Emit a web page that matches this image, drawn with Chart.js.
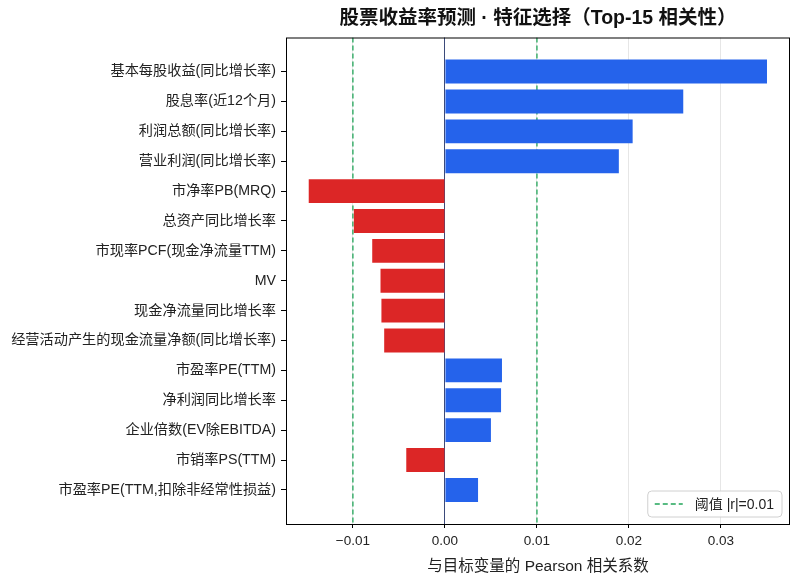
<!DOCTYPE html>
<html>
<head>
<meta charset="utf-8">
<script src="https://cdn.jsdelivr.net/npm/chart.js@4.4.1/dist/chart.umd.min.js"></script>
<style>
  body { margin: 0; background: #fff; }
  #chart { display: block; }
</style>
</head>
<body>
<canvas id="chart" width="800" height="586"></canvas>
<script>
const features = [
    '基本每股收益(同比增长率)',
    '股息率(近12个月)',
    '利润总额(同比增长率)',
    '营业利润(同比增长率)',
    '市净率PB(MRQ)',
    '总资产同比增长率',
    '市现率PCF(现金净流量TTM)',
    'MV',
    '现金净流量同比增长率',
    '经营活动产生的现金流量净额(同比增长率)',
    '市盈率PE(TTM)',
    '净利润同比增长率',
    '企业倍数(EV除EBITDA)',
    '市销率PS(TTM)',
    '市盈率PE(TTM,扣除非经常性损益)'
];
const pearsonR = [0.0350, 0.0259, 0.0204, 0.0189, -0.0148, -0.0099, -0.0079, -0.0070, -0.0069, -0.0066, 0.0062, 0.0061, 0.0050, -0.0042, 0.0036];
const threshold = 0.01;
const xTicks = [-0.01, 0, 0.01, 0.02, 0.03];
const xTickLabels = ['\u22120.01', '0.00', '0.01', '0.02', '0.03'];

const FONT = "'Liberation Sans', 'Noto Sans CJK SC', sans-serif";
const Y_MIN = -1.14, Y_MAX = features.length - 1 + 1.14;

// frame around plot + legend in lower right
const framePlugin = {
    id: 'frame',
    afterDraw(chart) {
        const { ctx, chartArea: a } = chart;
        ctx.save();
        ctx.strokeStyle = '#000';
        ctx.lineWidth = 1;
        ctx.strokeRect(a.left + 0.5, a.top + 0.5, a.right - a.left - 1, a.bottom - a.top);

        const label = chart.data.datasets[1].label;
        ctx.font = '14px ' + FONT;
        const tw = ctx.measureText(label).width;
        const w = tw + 55, h = 26;
        const x = a.right - 8 - w, y = a.bottom - 7 - h;
        ctx.fillStyle = 'rgba(255,255,255,0.85)';
        ctx.strokeStyle = '#d0d0d0';
        ctx.beginPath();
        ctx.roundRect(x, y, w, h, 4);
        ctx.fill();
        ctx.stroke();
        ctx.strokeStyle = '#22a559';
        ctx.lineWidth = 1.3;
        ctx.setLineDash([5, 3]);
        ctx.beginPath();
        ctx.moveTo(x + 7, y + h / 2);
        ctx.lineTo(x + 35, y + h / 2);
        ctx.stroke();
        ctx.setLineDash([]);
        ctx.fillStyle = '#222';
        ctx.textBaseline = 'middle';
        ctx.fillText(label, x + 47, y + h / 2 + 1);
        ctx.restore();
    }
};

new Chart(document.getElementById('chart'), {
    type: 'bar',
    data: {
        datasets: [
            {
                label: 'Pearson r',
                data: pearsonR.map((v, i) => ({ x: v, y: i })),
                backgroundColor: (c) => (c.raw && c.raw.x < 0) ? '#dc2626' : '#2563eb',
                categoryPercentage: 1,
                barPercentage: 0.8,
                order: 0
            },
            {
                type: 'line',
                label: '阈值 |r|=' + threshold,
                data: [{ x: threshold, y: Y_MIN }, { x: threshold, y: Y_MAX }],
                borderColor: '#22a559',
                borderWidth: 1.3,
                borderDash: [5, 3],
                pointRadius: 0,
                order: 1
            },
            {
                type: 'line',
                label: '_neg',
                data: [{ x: -threshold, y: Y_MIN }, { x: -threshold, y: Y_MAX }],
                borderColor: '#22a559',
                borderWidth: 1.3,
                borderDash: [5, 3],
                pointRadius: 0,
                order: 1
            }
        ]
    },
    options: {
        indexAxis: 'y',
        responsive: false,
        animation: false,
        layout: { padding: { left: 0, right: 10, top: 0, bottom: 0 } },
        plugins: {
            legend: { display: false },
            tooltip: { enabled: false },
            title: {
                display: true,
                fullSize: false,
                text: '股票收益率预测 · 特征选择（Top-15 相关性）',
                color: '#111',
                font: { family: FONT, size: 19.5, weight: 'bold', lineHeight: 1.0 },
                padding: { top: 9, bottom: 9 }
            }
        },
        scales: {
            x: {
                type: 'linear',
                min: -0.01727,
                max: 0.0375,
                afterBuildTicks: (s) => { s.ticks = xTicks.map(v => ({ value: v })); },
                afterFit: (s) => { s.height = 62; },
                ticks: {
                    callback: (v) => xTickLabels[xTicks.indexOf(v)],
                    color: '#222',
                    font: { family: FONT, size: 13.5 },
                    padding: 5
                },
                grid: {
                    color: (c) => c.tick && c.tick.value === 0 ? '#3b4a7a' : '#e6e6e6',
                    lineWidth: 1,
                    tickColor: '#000',
                    tickLength: 4
                },
                border: { display: false },
                title: {
                    display: true,
                    text: '与目标变量的 Pearson 相关系数',
                    color: '#222',
                    font: { family: FONT, size: 15.5 },
                    padding: { top: 0, bottom: 10 }
                }
            },
            y: {
                type: 'linear',
                reverse: true,
                offset: false,
                min: Y_MIN,
                max: Y_MAX,
                afterBuildTicks: (s) => { s.ticks = features.map((_, i) => ({ value: i })); },
                afterFit: (s) => { s.width = 286; },
                ticks: {
                    callback: (v) => features[v],
                    color: '#222',
                    font: { family: FONT, size: 14.2 },
                    padding: 5,
                    autoSkip: false
                },
                grid: {
                    offset: false,
                    drawOnChartArea: false,
                    drawTicks: true,
                    tickColor: '#000',
                    tickLength: 5
                },
                border: { display: false }
            }
        }
    },
    plugins: [framePlugin]
});
</script>
</body>
</html>
